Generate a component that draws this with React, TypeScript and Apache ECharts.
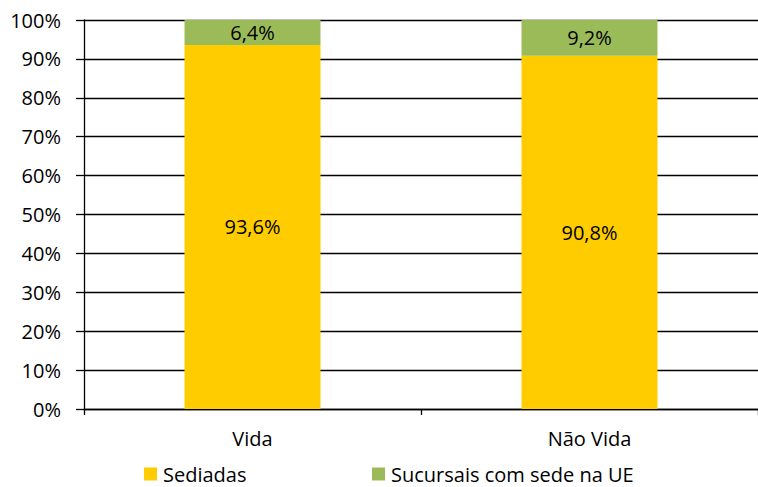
import React, { useEffect, useRef } from "react";
import * as echarts from "echarts";

const categories = ["Vida", "Não Vida"];
const sediadas = [93.6, 90.8];
const sucursais = [6.4, 9.2];
const seriesNames = ["Sediadas", "Sucursais com sede na UE"];
const yTicks = [0, 10, 20, 30, 40, 50, 60, 70, 80, 90, 100];

const FONT = "Open Sans";
const FS = 20;
const fmt = (v: number) => v.toFixed(1).replace(".", ",") + "%";

export default function App() {
  const ref = useRef<HTMLDivElement>(null);
  useEffect(() => {
    const chart = echarts.init(ref.current!, null, { renderer: "svg" });
    const legendText = {
      fontFamily: FONT,
      fontSize: FS,
      lineHeight: 22,
      color: "#000",
      padding: [0, 0, 0, 1],
    };
    chart.setOption({
      animation: false,
      textStyle: { fontFamily: FONT },
      grid: { left: 84, top: 20, width: 680, height: 389, containLabel: false },
      legend: [
        {
          data: [seriesNames[0]],
          left: 144,
          top: 463,
          padding: 0,
          itemWidth: 13,
          itemHeight: 13,
          icon: "rect",
          textStyle: legendText,
        },
        {
          data: [seriesNames[1]],
          left: 372,
          top: 463,
          padding: 0,
          itemWidth: 13,
          itemHeight: 13,
          icon: "rect",
          textStyle: legendText,
        },
      ],
      xAxis: {
        type: "category",
        data: categories,
        axisLine: { show: true, lineStyle: { color: "#000", width: 1.3 } },
        axisTick: { show: true, length: 6, lineStyle: { color: "#000", width: 1.3 } },
        axisLabel: { fontFamily: FONT, fontSize: FS, color: "#000", margin: 19 },
      },
      yAxis: {
        type: "value",
        min: yTicks[0],
        max: yTicks[yTicks.length - 1],
        interval: 10,
        axisLine: { show: true, lineStyle: { color: "#000", width: 1.3 } },
        axisTick: { show: true, length: 8, lineStyle: { color: "#000", width: 1.3 } },
        splitLine: { show: true, lineStyle: { color: "#000", width: 1.3 } },
        axisLabel: {
          fontFamily: FONT,
          fontSize: FS,
          color: "#000",
          margin: 23,
          formatter: (v: number) => v + "%",
        },
      },
      series: [
        {
          name: seriesNames[0],
          type: "bar",
          stack: "total",
          data: sediadas,
          barWidth: 136,
          itemStyle: { color: "#FFCC00" },
          label: {
            show: true,
            position: "inside",
            color: "#000",
            fontFamily: FONT,
            fontSize: FS,
            formatter: (p: any) => fmt(p.value),
          },
        },
        {
          name: seriesNames[1],
          type: "bar",
          stack: "total",
          data: sucursais,
          barWidth: 136,
          itemStyle: { color: "#9BBB59" },
          label: {
            show: true,
            position: "inside",
            color: "#000",
            fontFamily: FONT,
            fontSize: FS,
            formatter: (p: any) => fmt(p.value),
          },
        },
      ],
    });
    return () => chart.dispose();
  }, []);
  return (
    <div
      ref={ref}
      style={{ position: "fixed", left: 0, top: 0, width: 758, height: 487, background: "#fff" }}
    />
  );
}
